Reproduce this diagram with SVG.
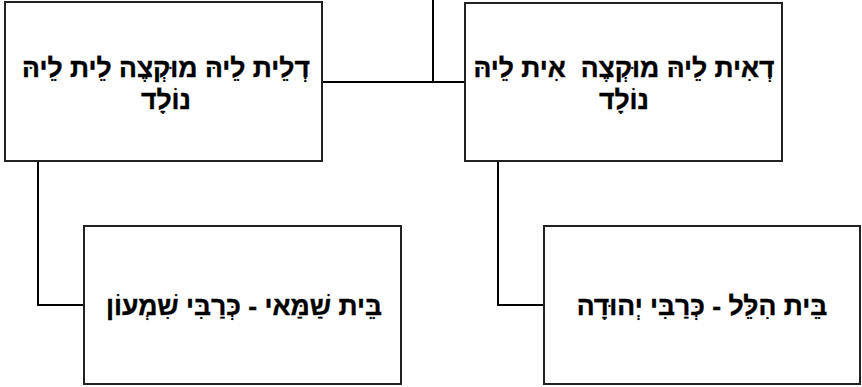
<svg xmlns="http://www.w3.org/2000/svg" width="862" height="387" viewBox="0 0 862 387">
<style>
.box{fill:#fff;stroke:#222;stroke-width:2}
.conn{fill:none;stroke:#000;stroke-width:2}
.t{font-family:"Liberation Sans",Arial,sans-serif;font-weight:bold;font-size:26.5px;fill:#000;stroke:#000;stroke-width:0.4;text-anchor:middle;direction:rtl}
</style>
<rect width="862" height="387" fill="#fff"/>
<g id="connectors">
<polyline class="conn" points="433,0 433,82 322,82"/>
<line class="conn" x1="433" y1="82" x2="465" y2="82"/>
<polyline class="conn" points="38,161 38,305 84,305"/>
<polyline class="conn" points="498,161 498,305 544,305"/>
</g>
<g id="node-left-top">
<rect class="box" x="5" y="2" width="317" height="159"/>
<text class="t" x="166" y="77">דְלֵית לֵיהּ מוּקְצֶה לֵית לֵיהּ</text>
<text class="t" x="166" y="109">נוֹלָד</text>
</g>
<g id="node-right-top">
<rect class="box" x="465" y="3" width="317" height="158"/>
<text class="t" x="624" y="77" xml:space="preserve">דְאִית לֵיהּ מוּקְצֶה  אִית לֵיהּ</text>
<text class="t" x="624" y="109">נוֹלָד</text>
</g>
<g id="node-left-bottom">
<rect class="box" x="84" y="226" width="317" height="158"/>
<text class="t" x="244" y="315">בֵּית שַׁמַּאי - כְּרַבִּי שִׁמְעוֹן</text>
</g>
<g id="node-right-bottom">
<rect class="box" x="544" y="226" width="316" height="158"/>
<text class="t" x="702" y="315">בֵּית הִלֵּל - כְּרַבִּי יְהוּדָה</text>
</g>
</svg>
